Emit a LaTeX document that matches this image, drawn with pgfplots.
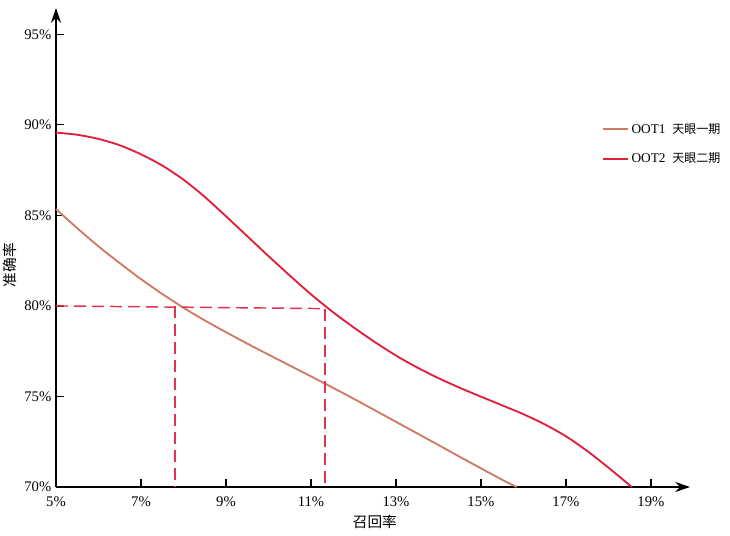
\documentclass[border=0pt]{standalone}
\usepackage{pgfplots}
\pgfplotsset{compat=1.18}
\usepackage{fontspec}
\setmainfont{Liberation Serif}
\newfontfamily\cjk{Noto Sans CJK SC}
\usetikzlibrary{arrows.meta}
\definecolor{oot1}{HTML}{D07A62}
\definecolor{oot2}{HTML}{E0203C}
\definecolor{guide}{HTML}{E0344E}

\begin{document}
\begin{tikzpicture}
\useasboundingbox (-42pt,-36pt) rectangle (505.5pt,365.25pt);
\begin{axis}[
    at={(0,0)}, anchor=south west,
    scale only axis,
    width=475.5pt, height=359.25pt,
    xmin=5, xmax=19.92, ymin=70, ymax=96.45,
    enlargelimits=false,
    axis lines=left,
    axis line style={line width=1.6pt, -{Stealth[length=11pt,width=7.5pt]}},
    xtick={5,7,9,11,13,15,17,19},
    ytick={70,75,80,85,90,95},
    xticklabels={5\%,7\%,9\%,11\%,13\%,15\%,17\%,19\%},
    yticklabels={70\%,75\%,80\%,85\%,90\%,95\%},
    tick align=inside,
    major tick length=6pt,
    tick style={black, line width=1pt},
    tick label style={font=\fontsize{11}{12}\selectfont},
    xticklabel style={yshift=-4pt},
    legend style={draw=none, fill=none, at={(rel axis cs:0.86,0.765)}, anchor=north west,
        font=\fontsize{10}{12}\selectfont, row sep=9pt, inner sep=0pt,
        legend cell align=left},
    legend image code/.code={\draw[#1, line width=1.5pt] (0pt,0pt) -- (19pt,0pt);},
    clip=false,
]
% OOT1
\addplot[oot1, line width=1.4pt, smooth] coordinates {
    (5,85.35) (5.5,84.29) (6,83.29) (6.5,82.36) (7,81.48) (7.5,80.66) (8,79.90)
    (8.5,79.20) (9,78.55) (9.5,77.92) (10,77.31) (10.5,76.71) (11,76.11) (11.5,75.50)
    (12,74.88) (12.5,74.24) (13,73.60) (13.5,72.96) (14,72.32) (14.5,71.67)
    (15,71.03) (15.5,70.40) (15.84,70)
};
\addlegendentry{OOT1\hspace{0.5em}{\cjk\fontsize{9}{12}\selectfont 天眼一期}}
% OOT2
\addplot[oot2, line width=1.4pt, smooth] coordinates {
    (5,89.57) (5.5,89.45) (6,89.22) (6.5,88.87) (7,88.37) (7.5,87.75) (8,86.97)
    (8.5,86.02) (9,84.95) (9.5,83.85) (10,82.75) (10.5,81.68) (11,80.64) (11.5,79.69)
    (12,78.82) (12.5,78.01) (13,77.26) (13.5,76.60) (14,76.01) (14.5,75.48)
    (15,74.99) (15.5,74.51) (16,74.02) (16.5,73.46) (17,72.80) (17.5,71.99)
    (18,71.07) (18.55,70)
};
\addlegendentry{OOT2\hspace{0.5em}{\cjk\fontsize{9}{12}\selectfont 天眼二期}}
% guide lines
\addplot[guide, line width=1.1pt, dash pattern=on 9pt off 4.5pt, forget plot] coordinates {(5,80) (11.33,79.85)};
\addplot[guide, line width=1.1pt, dash pattern=on 9pt off 4.5pt, forget plot] coordinates {(7.8,79.97) (7.8,70)};
\addplot[guide, line width=1.1pt, dash pattern=on 9pt off 4.5pt, forget plot] coordinates {(11.33,79.85) (11.33,70)};
\node[font=\cjk\fontsize{11}{12}\selectfont] at (rel axis cs:0.503,0) [yshift=-26pt] {召回率};
\node[font=\cjk\fontsize{11}{12}\selectfont, rotate=90] at (rel axis cs:0,0.463) [yshift=34.5pt] {准确率};
\end{axis}
\end{tikzpicture}
\end{document}
